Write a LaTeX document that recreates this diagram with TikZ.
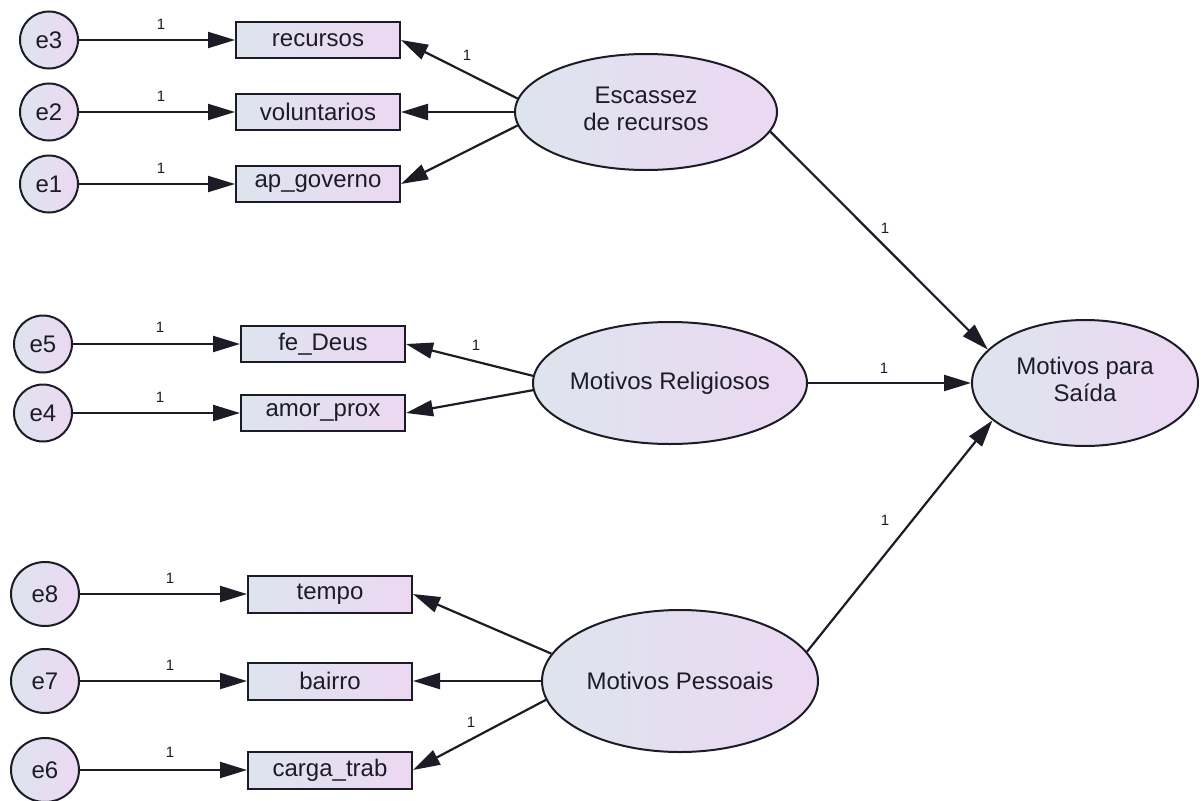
\documentclass[tikz,border=0pt]{standalone}
\usepackage{fontspec}
\setmainfont{Liberation Sans}
\usetikzlibrary{shapes.geometric,arrows.meta}
\definecolor{gl}{RGB}{222,228,238}
\definecolor{gr}{RGB}{236,216,242}
\definecolor{ink}{RGB}{28,28,38}
\begin{document}
\begin{tikzpicture}[x=1pt,y=-1pt,
  every node/.style={font=\fontsize{24}{27}\selectfont, text=ink},
  obs/.style={draw=ink, line width=2pt, rectangle, minimum width=164pt, minimum height=36pt, inner sep=0pt, left color=gl, right color=gr},
  err/.style={draw=ink, ellipse, line width=2pt, inner sep=0pt, minimum width=58pt, minimum height=57pt, left color=gl, right color=gr},
  errb/.style={err, minimum width=68pt, minimum height=64pt},
  lat/.style={draw=ink, ellipse, line width=2pt, inner sep=0pt, left color=gl, right color=gr},
  conn/.style={draw=ink, line width=2.2pt, -{Triangle[length=27pt,width=16pt]}},
  lab/.style={font=\fontsize{15}{17}\selectfont, inner sep=0pt}]
\useasboundingbox (0,0) rectangle (1201,800);
% --- nodes: top group
\node[err] (e3) at (49,40) {e3};
\node[err] (e2) at (49,112) {e2};
\node[err] (e1) at (49,184) {e1};
\node[obs] (rec) at (318,40) {recursos};
\node[obs] (vol) at (318,112) {voluntarios};
\node[obs] (apg) at (318,184) {ap\_governo};
\node[lat, minimum width=262pt, minimum height=116pt] (esc) at (646,112)
  {\makebox[0pt]{\begin{tabular}{@{}c@{}}Escassez\\de recursos\end{tabular}}};
% --- middle group
\node[err] (e5) at (43,344) {e5};
\node[err] (e4) at (43,413) {e4};
\node[obs] (fe) at (323,344) {fe\_Deus};
\node[obs] (amor) at (323,413) {amor\_prox};
\node[lat, minimum width=274pt, minimum height=122pt] (rel) at (670,383)
  {\makebox[0pt]{Motivos Religiosos}};
\node[lat, minimum width=226pt, minimum height=126pt] (sai) at (1085,383)
  {\makebox[0pt]{\begin{tabular}{@{}c@{}}Motivos para\\Saída\end{tabular}}};
% --- bottom group
\node[errb] (e8) at (45,594) {e8};
\node[errb] (e7) at (45,681) {e7};
\node[errb] (e6) at (45,770) {e6};
\node[obs, minimum height=37pt] (tem) at (330,594) {tempo};
\node[obs, minimum height=37pt] (bai) at (330,681) {bairro};
\node[obs, minimum height=37pt] (car) at (330,770) {carga\_trab};
\node[lat, minimum width=276pt, minimum height=142pt] (pes) at (680,681)
  {\makebox[0pt]{Motivos Pessoais}};
% --- connectors
\draw[conn] (e3) -- (rec);
\draw[conn] (e2) -- (vol);
\draw[conn] (e1) -- (apg);
\draw[conn] (esc.174.7) -- (rec.east);
\draw[conn] (esc.west) -- (vol.east);
\draw[conn] (esc.186.6) -- (apg.east);
\draw[conn] (e5) -- (fe);
\draw[conn] (e4) -- (amor);
\draw[conn] (rel.177) -- (fe.east);
\draw[conn] (rel.183.5) -- (amor.east);
\draw[conn] (e8) -- (tem);
\draw[conn] (e7) -- (bai);
\draw[conn] (e6) -- (car);
\draw[conn] (pes.168.8) -- (tem.east);
\draw[conn] (pes.west) -- (bai.east);
\draw[conn] (pes.188.5) -- (car.east);
\draw[conn] (esc.-9.6) -- (sai.161.4);
\draw[conn] (rel.east) -- (sai.west);
\draw[conn] (pes.13.9) -- (sai.202.8);
% --- labels
\node[lab] (l1) at (161,24) {1};
\node[lab] (l2) at (161,96) {1};
\node[lab] (l3) at (161,168) {1};
\node[lab] (l4) at (467,55) {1};
\node[lab] (l5) at (160,327) {1};
\node[lab] (l6) at (160,397) {1};
\node[lab] (l7) at (476,345) {1};
\node[lab] (l8) at (884,368) {1};
\node[lab] (l9) at (885,228) {1};
\node[lab] (l10) at (885,520) {1};
\node[lab] (l11) at (170,578) {1};
\node[lab] (l12) at (170,665) {1};
\node[lab] (l13) at (170,752) {1};
\node[lab] (l14) at (471,722) {1};
\end{tikzpicture}
\end{document}
